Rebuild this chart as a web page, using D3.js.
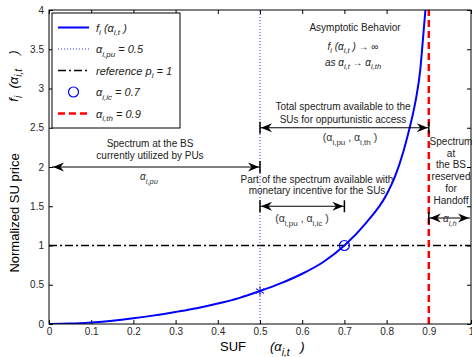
<!DOCTYPE html>
<html>
<head>
<meta charset="utf-8">
<script src="https://cdn.jsdelivr.net/npm/d3@7/dist/d3.min.js"></script>
<style>
  html, body { margin: 0; padding: 0; background: #fff; }
  svg { display: block; font-family: "Liberation Sans", Arial, Helvetica, sans-serif; }
</style>
</head>
<body>
<svg id="chart" width="472" height="357"></svg>
<script>
// Spectrum utilisation factor (SUF) and normalised SU price curve
const suf   = [0, 0.05, 0.1, 0.15, 0.2, 0.25, 0.3, 0.35, 0.4, 0.45, 0.5, 0.55, 0.6, 0.65, 0.7,
               0.75, 0.8, 0.82, 0.84, 0.85, 0.86, 0.87, 0.88, 0.886, 0.892];
const price = [0, 0.005, 0.02, 0.042, 0.073, 0.11, 0.153, 0.2, 0.26, 0.33, 0.42, 0.52, 0.64, 0.79, 1.0,
               1.28, 1.65, 1.88, 2.2, 2.4, 2.62, 2.88, 3.25, 3.62, 4.0];

// Thresholds
const alphaPu = 0.5;
const alphaIc = 0.7;
const alphaTh = 0.9;
const refPrice = 1;

// Axis ticks
const xTicks = [0, 0.1, 0.2, 0.3, 0.4, 0.5, 0.6, 0.7, 0.8, 0.9, 1];
const xTickLabels = ["0", "0.1", "0.2", "0.3", "0.4", "0.5", "0.6", "0.7", "0.8", "0.9", "1"];
const yTicks = [0, 0.5, 1, 1.5, 2, 2.5, 3, 3.5, 4];
const yTickLabels = ["0", "0.5", "1", "1.5", "2", "2.5", "3", "3.5", "4"];

// Spans drawn as arrows: [from, to, level]
const spanPu = [0, alphaPu, 2];
const spanTotal = [alphaPu, alphaTh, 2.5];
const spanIc = [alphaPu, alphaIc, 1.5];
const spanHandoff = [alphaTh, 1, 1.35];

const svg = d3.select("#chart");
const margin = { left: 49, right: 1, top: 10, bottom: 33 };
const W = 472, H = 357;
const x = d3.scaleLinear().domain([0, 1]).range([margin.left, W - margin.right]);
const y = d3.scaleLinear().domain([0, 4]).range([H - margin.bottom, margin.top]);

const textCol = "#222";

svg.append("defs").append("clipPath").attr("id", "plotClip")
  .append("rect")
  .attr("x", x(0)).attr("y", y(4))
  .attr("width", x(1) - x(0)).attr("height", y(0) - y(4));

// Axes with inward ticks
const fmt = (labels, ticks) => d => labels[ticks.indexOf(d)];
const gx = svg.append("g").attr("transform", `translate(0,${y(0)})`)
  .call(d3.axisBottom(x).tickValues(xTicks).tickFormat(fmt(xTickLabels, xTicks)).tickSize(-4).tickPadding(4));
const gxTop = svg.append("g").attr("transform", `translate(0,${y(4)})`)
  .call(d3.axisTop(x).tickValues(xTicks).tickFormat("").tickSize(-4));
const gy = svg.append("g").attr("transform", `translate(${x(0)},0)`)
  .call(d3.axisLeft(y).tickValues(yTicks).tickFormat(fmt(yTickLabels, yTicks)).tickSize(-4).tickPadding(5));
const gyR = svg.append("g").attr("transform", `translate(${x(1)},0)`)
  .call(d3.axisRight(y).tickValues(yTicks).tickFormat("").tickSize(-4));
[gx, gxTop, gy, gyR].forEach(g => {
  g.select(".domain").remove();
  g.selectAll(".tick line").attr("stroke", "#000");
  g.selectAll(".tick text").attr("fill", "#262626").style("font-size", "10px")
    .style("font-family", "'Liberation Sans', Arial, sans-serif");
});

const plot = svg.append("g").attr("clip-path", "url(#plotClip)");

// Reference price line
plot.append("line")
  .attr("x1", x(0)).attr("x2", x(1)).attr("y1", y(refPrice)).attr("y2", y(refPrice))
  .attr("stroke", "#000").attr("stroke-width", 1.5).attr("stroke-dasharray", "8,3,2,3");

// PU threshold
plot.append("line")
  .attr("x1", x(alphaPu)).attr("x2", x(alphaPu)).attr("y1", y(0)).attr("y2", y(4))
  .attr("stroke", "#3333ff").attr("stroke-width", 1).attr("stroke-dasharray", "1,2");

// Price curve
const pts = suf.map((s, i) => [s, price[i]]);
plot.append("path").datum(pts)
  .attr("d", d3.line().x(d => x(d[0])).y(d => y(d[1])).curve(d3.curveMonotoneX))
  .attr("fill", "none").attr("stroke", "#0000ff").attr("stroke-width", 2);

// Threshold of SUF
plot.append("line")
  .attr("x1", x(alphaTh)).attr("x2", x(alphaTh)).attr("y1", y(0)).attr("y2", y(4))
  .attr("stroke", "#ff0000").attr("stroke-width", 2.5).attr("stroke-dasharray", "7,4");

// Markers
plot.append("path")
  .attr("transform", `translate(${x(alphaPu)},${y(price[suf.indexOf(alphaPu)])})`)
  .attr("d", d3.symbol(d3.symbolAsterisk, 60)())
  .attr("fill", "none").attr("stroke", "#0000ff").attr("stroke-width", 1);
plot.append("circle")
  .attr("cx", x(alphaIc)).attr("cy", y(refPrice)).attr("r", 5)
  .attr("fill", "none").attr("stroke", "#0000ff").attr("stroke-width", 1.2);

// Frame
svg.append("rect")
  .attr("x", x(0)).attr("y", y(4)).attr("width", x(1) - x(0)).attr("height", y(0) - y(4))
  .attr("fill", "none").attr("stroke", "#000").attr("stroke-width", 1);

// Text with subscripts: parts = [[text, isSub], ...]
function richText(g, parts, size, subSize, opts = {}) {
  const t = g.append("text")
    .attr("x", opts.x || 0).attr("y", opts.y || 0)
    .attr("text-anchor", opts.anchor || "start")
    .attr("fill", opts.fill || textCol)
    .style("font-size", size + "px")
    .style("font-style", opts.italic ? "italic" : "normal")
    .style("white-space", "pre");
  let down = false;
  const shift = opts.shift || 3.5;
  parts.forEach(([s, sub]) => {
    const ts = t.append("tspan").text(s);
    if (sub && !down) { ts.attr("dy", shift).style("font-size", subSize + "px"); down = true; }
    else if (sub) { ts.style("font-size", subSize + "px"); }
    else if (down) { ts.attr("dy", -shift); down = false; }
  });
  if (opts.transform) t.attr("transform", opts.transform);
  return t;
}

// Arrowhead path pointing right with tip at origin
const headPath = "M0,0 L-11,-4.5 L-7.5,0 L-11,4.5 Z";
function head(g, px, py, dir) {
  g.append("path").attr("d", headPath)
    .attr("transform", `translate(${px},${py}) scale(${dir},1)`)
    .attr("fill", "#000");
}
function bar(g, px, py) {
  g.append("line").attr("x1", px).attr("x2", px).attr("y1", py - 6).attr("y2", py + 6)
    .attr("stroke", "#000").attr("stroke-width", 1.5);
}
function span(span, barLeft, barRight) {
  const g = svg.append("g");
  const x1 = x(span[0]) + (barLeft ? 0 : 3), x2 = x(span[1]) - (barRight ? 0 : 1), yy = y(span[2]);
  g.append("line").attr("x1", x1).attr("x2", x2).attr("y1", yy).attr("y2", yy)
    .attr("stroke", "#000").attr("stroke-width", 1);
  head(g, x1 + 1, yy, -1);
  head(g, x2 - 1, yy, 1);
  if (barLeft) bar(g, x1, yy);
  if (barRight) bar(g, x2, yy);
}
span(spanPu, false, true);
span(spanTotal, true, true);
span(spanIc, true, true);
span(spanHandoff, true, false);

// Annotation texts
const ann = svg.append("g").style("font-size", "10px");
function line(t, px, py, anchor = "middle") {
  ann.append("text").attr("x", px).attr("y", py).attr("text-anchor", anchor)
    .attr("fill", textCol).style("font-size", "10px").text(t);
}
line("Asymptotic Behavior", 355, 31);
richText(ann, [["f", false], ["i", true], [" (\u03b1", false], ["i,t", true], [" ) \u2192 \u221e", false]],
  10, 7.5, { x: 353, y: 50, anchor: "middle", italic: true, shift: 3 });
richText(ann, [["as \u03b1", false], ["i,t", true], [" \u2192 \u03b1", false], ["i,th", true]],
  10, 7.5, { x: 353, y: 66, anchor: "middle", italic: true, shift: 3 });

line("Total spectrum available to the", 343, 110);
line("SUs for oppurtunistic access", 343, 123);
richText(ann, [["(\u03b1", false], ["i,pu", true], [" , \u03b1", false], ["i,th", true], [" )", false]],
  10.5, 8, { x: 350, y: 141, anchor: "middle", fill: "#333", shift: 3.5 });

line("Spectrum at the BS", 150, 147);
line("currently utilized by PUs", 150, 159);
richText(ann, [["\u03b1", false], ["i,pu", true]],
  10, 7.5, { x: 149, y: 180, anchor: "middle", fill: "#333", italic: true, shift: 4 });

line("Part of the spectrum available with", 317, 183);
line("monetary incentive for the SUs", 317, 194);
richText(ann, [["(\u03b1", false], ["i,pu", true], [" , \u03b1", false], ["i,ic", true], [" )", false]],
  10.5, 8, { x: 302, y: 222, anchor: "middle", fill: "#333", shift: 3.5 });

["Spectrum", "at", "the BS", "reserved", "for", "Handoff"].forEach((t, i) => line(t, 451, 145 + i * 11.7));
richText(ann, [["\u03b1", false], ["i,h", true]],
  10, 7.5, { x: 443, y: 222, anchor: "start", fill: "#333", italic: true, shift: 3.5 });

// Axis titles
richText(svg, [["Normalized SU price", false]], 13, 10,
  { x: 0, y: 0, anchor: "middle", fill: "#000", transform: `translate(19,213) rotate(-90)` });
richText(svg, [["f", false], ["i", true], ["  (\u03b1", false], ["i,t", true], ["    )", false]], 13, 10,
  { x: 0, y: 0, anchor: "middle", fill: "#000", italic: true, shift: 4, transform: `translate(18,76) rotate(-90)` });
richText(svg, [["SUF", false]], 13, 10, { x: 233, y: 351, anchor: "middle", fill: "#000" });
richText(svg, [["(\u03b1", false], ["i,t", true], ["   )", false]], 13, 10,
  { x: 270, y: 351, anchor: "start", fill: "#000", italic: true, shift: 4.5 });

// Legend
const leg = svg.append("g");
leg.append("rect").attr("x", 52).attr("y", 13).attr("width", 128).attr("height", 115)
  .attr("fill", "#fff").attr("stroke", "#000").attr("stroke-width", 1);
const rowY = i => 27.5 + i * 21.5;
const lx1 = 58, lx2 = 89, tx = 96;
leg.append("line").attr("x1", lx1).attr("x2", lx2).attr("y1", rowY(0)).attr("y2", rowY(0))
  .attr("stroke", "#0000ff").attr("stroke-width", 2);
leg.append("line").attr("x1", lx1).attr("x2", lx2).attr("y1", rowY(1)).attr("y2", rowY(1))
  .attr("stroke", "#3333ff").attr("stroke-width", 1).attr("stroke-dasharray", "1,2");
leg.append("line").attr("x1", lx1).attr("x2", lx2).attr("y1", rowY(2)).attr("y2", rowY(2))
  .attr("stroke", "#000").attr("stroke-width", 1.5).attr("stroke-dasharray", "8,3,2,3");
leg.append("circle").attr("cx", (lx1 + lx2) / 2).attr("cy", rowY(3)).attr("r", 5)
  .attr("fill", "none").attr("stroke", "#0000ff").attr("stroke-width", 1.2);
leg.append("line").attr("x1", lx1).attr("x2", lx2).attr("y1", rowY(4)).attr("y2", rowY(4))
  .attr("stroke", "#ff0000").attr("stroke-width", 2.5).attr("stroke-dasharray", "7,4");

const legendLabels = [
  [["f", false], ["i", true], [" (\u03b1", false], ["i,t", true], [" )", false]],
  [["\u03b1", false], ["i,pu", true], [" = " + alphaPu, false]],
  [["reference p", false], ["i", true], [" = " + refPrice, false]],
  [["\u03b1", false], ["i,ic", true], [" = " + alphaIc, false]],
  [["\u03b1", false], ["i,th", true], [" = " + alphaTh, false]]
];
legendLabels.forEach((parts, i) => {
  richText(leg, parts, 11, 8, { x: tx, y: rowY(i) + 4, anchor: "start", fill: "#222", italic: true, shift: 3.5 });
});
</script>
</body>
</html>
